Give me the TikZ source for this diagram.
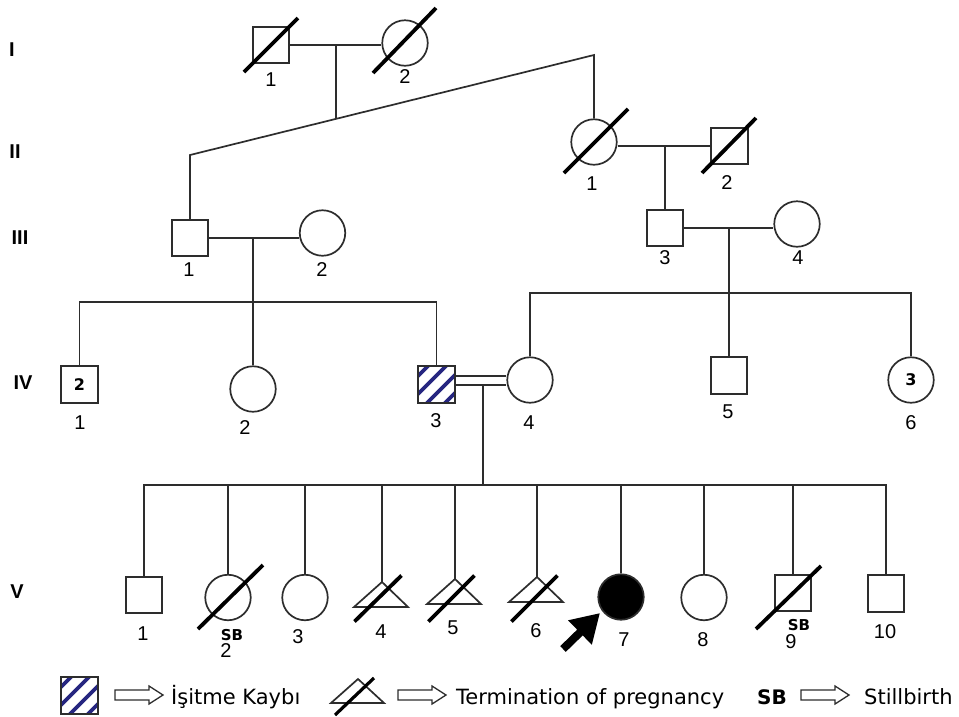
\documentclass[tikz,border=0pt]{standalone}
\usepackage{fontspec}
\setmainfont{Liberation Sans}
\newfontfamily\legendfont{DejaVu Sans}
\usetikzlibrary{arrows.meta,calc}

\definecolor{pedline}{RGB}{45,45,45}
\definecolor{hatchblue}{RGB}{38,38,128}

\tikzset{
  pedlink/.style={draw=pedline, line width=1.7pt},
  slash/.style={draw=black, line width=3.8pt},
  male/.style={rectangle, draw=pedline, line width=1.7pt, fill=white,
    minimum size=36.5pt, inner sep=0pt},
  female/.style={circle, draw=pedline, line width=1.7pt, fill=white,
    minimum size=45.5pt, inner sep=0pt},
  affected/.style={fill=black},
  hearingloss/.style={path picture={
    \foreach \o in {-27,-9,9,27}
      \draw[hatchblue, line width=3.8pt]
        ($(path picture bounding box.center)+(\o/2-30,\o/2+30)$) --
        ($(path picture bounding box.center)+(\o/2+30,\o/2-30)$);}},
  num/.style={inner sep=0pt, font=\fontsize{20}{24}\selectfont},
  gen/.style={inner sep=0pt, font=\bfseries\fontsize{20}{24}\selectfont},
  count/.style={font=\legendfont\bfseries\fontsize{16}{19}\selectfont},
  sbmark/.style={inner sep=0pt, font=\legendfont\bfseries\fontsize{15}{18}\selectfont},
  legendtxt/.style={inner sep=0pt, anchor=base west,
    font=\legendfont\fontsize{21}{25}\selectfont},
  pics/losstri/.style={code={
    \draw[pedlink, fill=white] (0,0) -- (26,25) -- (-28,25) -- cycle;}},
  pics/legendtri/.style={code={
    \draw[pedlink, fill=white] (0,0) -- (26,24) -- (-27,24) -- cycle;}},
  pics/hollowarrow/.style={code={
    \draw[pedlink, line width=1.3pt, fill=white]
      (0,-5) -- (34,-5) -- (34,-9) -- (48,0) -- (34,9) -- (34,5) -- (0,5) -- cycle;}},
}

\begin{document}
\begin{tikzpicture}[x=1pt, y=-1pt]
\fill[white] (0,0) rectangle (959,716);
\useasboundingbox (0,0) rectangle (959,716);

% generation numerals
\node[gen] (g1) at (12,50) {I};
\node[gen] (g2) at (15,152) {II};
\node[gen] (g3) at (20,238) {III};
\node[gen] (g4) at (23,383) {IV};
\node[gen] (g5) at (17,592) {V};

% ---------- individuals ----------
% generation I
\node[male]   (i1) at (271,45) {};
\node[female] (i2) at (405,43) {};
% generation II
\node[female] (ii1) at (594,142) {};
\node[male]   (ii2) at (729.5,146) {};
% generation III
\node[male]   (iii1) at (190,238) {};
\node[female] (iii2) at (322.5,233) {};
\node[male]   (iii3) at (665,228) {};
\node[female] (iii4) at (797,224) {};
% generation IV
\node[male, count] (iv1) at (79.5,384.5) {2};
\node[female] (iv2) at (253,389) {};
\node[male, hearingloss] (iv3) at (436.5,384.5) {};
\node[female] (iv4) at (530,380) {};
\node[male]   (iv5) at (729,375.5) {};
\node[female, count] (iv6) at (911,380) {3};
% generation V
\node[male]   (v1) at (144,595) {};
\node[female] (v2) at (228,597.5) {};
\node[female] (v3) at (305,597.5) {};
\coordinate (v4) at (382,582);
\coordinate (v5) at (455,579);
\coordinate (v6) at (537,577);
\pic at (v4) {losstri};
\pic at (v5) {losstri};
\pic at (v6) {losstri};
\node[female, affected] (v7) at (621,597) {};
\node[female] (v8) at (704,597.5) {};
\node[male]   (v9) at (793,593) {};
\node[male]   (v10) at (886,593.5) {};

% ---------- connectors ----------
% I-1 x I-2 and their children II-1 and III-1
\coordinate (mI) at (336,45);
\coordinate (brL) at (190,155);
\coordinate (brR) at (594,55);
\coordinate (sI) at ($(brL)!0.36139!(brR)$);
\draw[pedlink] (i1.east) -- (i1.east -| i2.west);
\draw[pedlink] (mI) -- (sI);
\draw[pedlink] (iii1.north) -- (brL) -- (brR) -- (ii1.north);

% II-1 x II-2
\coordinate (mII) at (665,146);
\draw[pedlink] (ii2.west) -- (ii2.west -| ii1.east);
\draw[pedlink] (mII) -- (iii3.north);

% III-1 x III-2
\coordinate (mIIIa) at (253,238);
\coordinate (sIIIa) at (253,302);
\draw[pedlink] (iii1.east) -- (iii1.east -| iii2.west);
\draw[pedlink] (mIIIa) -- (iv2.north);
\draw[pedlink] (iv1.north) |- (sIIIa) -| (iv3.north);

% III-3 x III-4
\coordinate (mIIIb) at (729,228);
\coordinate (sIIIb) at (729,293);
\draw[pedlink] (iii3.east) -- (iii3.east -| iii4.west);
\draw[pedlink] (mIIIb) -- (iv5.north);
\draw[pedlink] (iv4.north) |- (sIIIb) -| (iv6.north);

% consanguineous union IV-3 = IV-4
\coordinate (dblA) at (0,376);
\coordinate (dblB) at (0,385);
\draw[pedlink] (iv3.east |- dblA) -- (iv4.west |- dblA);
\draw[pedlink] (iv3.east |- dblB) -- (iv4.west |- dblB);
\coordinate (mIV) at (483,385);
\coordinate (sIV) at (483,485);
\draw[pedlink] (mIV) -- (sIV);

% sibship of generation V
\draw[pedlink] (v1.north) |- (sIV) -| (v10.north);
\foreach \c in {v2,v3,v7,v8,v9}
  \draw[pedlink] (\c.north |- sIV) -- (\c.north);
\foreach \c in {v4,v5,v6}
  \draw[pedlink] (\c |- sIV) -- (\c);

% ---------- deceased / terminated marks ----------
\draw[slash] ($(i1)+(-27,27)$) -- ($(i1)+(27,-27)$);
\draw[slash] ($(i2)+(-32,30)$) -- ($(i2)+(31,-35)$);
\draw[slash] ($(ii1)+(-30,31)$) -- ($(ii1)+(34,-33)$);
\draw[slash] ($(ii2)+(-27.5,27)$) -- ($(ii2)+(26.5,-28)$);
\draw[slash] ($(v2)+(-30,31.5)$) -- ($(v2)+(35,-32.5)$);
\draw[slash] ($(v4)+(-27.5,39.5)$) -- ($(v4)+(19.5,-6.5)$);
\draw[slash] ($(v5)+(-26.5,42.5)$) -- ($(v5)+(19.5,-3.5)$);
\draw[slash] ($(v6)+(-25.5,44.5)$) -- ($(v6)+(20.5,-1.5)$);
\draw[slash] ($(v9)+(-37,36)$) -- ($(v9)+(28,-27)$);

% proband arrow
\coordinate (pa-tail) at (563,649);
\coordinate (pa-tip) at (600,613);
\draw[line width=8pt, -{Triangle[length=28pt,width=32pt]}] (pa-tail) -- (pa-tip);

% ---------- individual numbers ----------
\node[num] (n-i1) at (271,80) {1};
\node[num] (n-i2) at (405,77) {2};
\node[num] (n-ii1) at (592,184) {1};
\node[num] (n-ii2) at (727,183) {2};
\node[num] (n-iii1) at (189,270) {1};
\node[num] (n-iii2) at (322,270) {2};
\node[num] (n-iii3) at (665,258) {3};
\node[num] (n-iii4) at (798,258) {4};
\node[num] (n-iv1) at (80,423) {1};
\node[num] (n-iv2) at (245,428) {2};
\node[num] (n-iv3) at (436,421) {3};
\node[num] (n-iv4) at (529,423) {4};
\node[num] (n-iv5) at (728,412) {5};
\node[num] (n-iv6) at (911,423) {6};
\node[num] (n-v1) at (143,634) {1};
\node[num] (n-v2) at (226,651) {2};
\node[sbmark] (sb-v2) at (232,635) {SB};
\node[num] (n-v3) at (298,637) {3};
\node[num] (n-v4) at (381,632) {4};
\node[num] (n-v5) at (453,628) {5};
\node[num] (n-v6) at (536,631) {6};
\node[num] (n-v7) at (624,640) {7};
\node[num] (n-v8) at (703,640) {8};
\node[num] (n-v9) at (791,642) {9};
\node[sbmark] (sb-v9) at (799,625) {SB};
\node[num] (n-v10) at (885,632) {10};

% ---------- legend ----------
\node[male, hearingloss] (lg-box) at (79.5,695.5) {};
\pic at (115,695) {hollowarrow};
\node[legendtxt] (lg-hl) at (171,704) {İşitme Kaybı};
\coordinate (lg-tri) at (358,679);
\pic at (lg-tri) {legendtri};
\draw[slash, line width=3.2pt] ($(lg-tri)+(-23,36)$) -- ($(lg-tri)+(16,-1)$);
\pic at (398,695) {hollowarrow};
\node[legendtxt] (lg-top) at (456,704) {Termination of pregnancy};
\node[legendtxt, font=\legendfont\bfseries\fontsize{20}{24}\selectfont] (lg-sb) at (757,704) {SB};
\pic at (801,695) {hollowarrow};
\node[legendtxt] (lg-stb) at (864,704) {Stillbirth};
\end{tikzpicture}
\end{document}
